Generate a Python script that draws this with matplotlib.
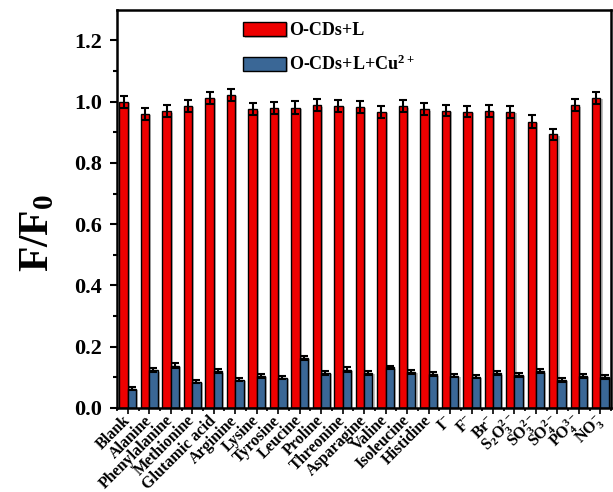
import matplotlib
matplotlib.use("Agg")
import matplotlib.pyplot as plt
import matplotlib.patheffects as pe
import matplotlib.transforms as mtransforms
import numpy as np

# data
labels = ["Blank", "Alanine", "Phenylalanine", "Methionine", "Glutamic acid",
          "Arginine", "Lysine", "Tyrosine", "Leucine", "Proline", "Threonine",
          "Asparagine", "Valine", "Isoleucine", "Histidine",
          r"I$^{-}$", r"F$^{-}$", r"Br$^{-}$", r"S$_2$O$_3^{2-}$",
          r"SO$_3^{2-}$", r"SO$_4^{2-}$", r"PO$_4^{3-}$", r"NO$_3^{-}$"]
red_vals = [1.00, 0.961, 0.969, 0.986, 1.013, 1.022, 0.975, 0.979, 0.981,
            0.988, 0.987, 0.983, 0.967, 0.985, 0.975, 0.971, 0.967, 0.970,
            0.967, 0.935, 0.894, 0.988, 1.013]
red_err = [0.02, 0.02, 0.02, 0.02, 0.02, 0.02, 0.02, 0.02, 0.02, 0.02, 0.02,
           0.02, 0.02, 0.02, 0.02, 0.018, 0.018, 0.02, 0.02, 0.02, 0.018,
           0.02, 0.02]
blue_vals = [0.063, 0.123, 0.138, 0.086, 0.120, 0.092, 0.105, 0.099, 0.163,
             0.114, 0.125, 0.114, 0.132, 0.118, 0.110, 0.105, 0.101, 0.113,
             0.108, 0.120, 0.091, 0.104, 0.101]
blue_err = [0.004, 0.007, 0.007, 0.005, 0.006, 0.005, 0.006, 0.006, 0.008,
            0.006, 0.007, 0.006, 0.006, 0.006, 0.006, 0.005, 0.005, 0.006,
            0.006, 0.006, 0.005, 0.005, 0.006]

plt.rcParams["font.family"] = ["Liberation Serif", "DejaVu Serif"]
plt.rcParams["font.weight"] = "bold"
plt.rcParams["mathtext.fontset"] = "custom"
plt.rcParams["mathtext.rm"] = "Liberation Serif:bold"
plt.rcParams["mathtext.it"] = "Liberation Serif:bold"
plt.rcParams["mathtext.bf"] = "Liberation Serif:bold"

fig = plt.figure(figsize=(6.13, 4.92), dpi=100)
ax = fig.add_axes([0.191, 0.171, 0.806, 0.809])

x = np.arange(len(labels))
w = 0.39
shadow = [pe.SimplePatchShadow(offset=(1.5, -1), shadow_rgbFace="0.5", alpha=0.5), pe.Normal()]
ekw = dict(ecolor="black", elinewidth=1.5, capsize=3, capthick=1.5)

b1 = ax.bar(x - w / 2, red_vals, w, yerr=red_err, color="#ee0000",
            edgecolor="black", linewidth=1, label="O-CDs+L", error_kw=ekw)
b2 = ax.bar(x + w / 2, blue_vals, w, yerr=blue_err, color="#3a6796",
            edgecolor="black", linewidth=1, label=r"O-CDs+L+Cu$^{2+}$", error_kw=ekw)
for p in list(b1) + list(b2):
    p.set_path_effects(shadow)

ax.set_xlim(-0.5, len(labels) - 0.5)
ax.set_ylim(0, 1.3)
ax.set_yticks(np.arange(0, 1.21, 0.2))
ax.set_yticks(np.arange(0.1, 1.3, 0.2), minor=True)
ax.set_xticks(x)
ax.set_xticks(np.arange(-0.5, len(labels), 1.0), minor=True)
ax.set_xticklabels(labels, rotation=45, ha="right", va="center",
                   rotation_mode="anchor", fontsize=11.5, fontweight="bold")
# nudge the rotated labels to the right and up, as in the original
offset = mtransforms.ScaledTranslation(8 / 100, 3 / 100, fig.dpi_scale_trans)
for lab in ax.get_xticklabels():
    lab.set_transform(lab.get_transform() + offset)
ax.tick_params(axis="y", which="major", direction="out", length=5, width=1.5,
               labelsize=16, pad=6)
ax.tick_params(axis="y", which="minor", direction="out", length=3, width=1.5)
ax.tick_params(axis="x", which="major", direction="out", length=4, width=1.2)
ax.tick_params(axis="x", which="minor", direction="out", length=2.5, width=1.2)
for lab in ax.get_yticklabels():
    lab.set_fontweight("bold")
for s in ax.spines.values():
    s.set_linewidth(1.8)

ax.set_ylabel(r"F/F$_{0}$", fontsize=30, fontweight="bold")
ax.yaxis.set_label_coords(-0.122, 0.44)

ax.legend(loc="upper left", bbox_to_anchor=(0.255, 0.97), frameon=False,
          handlelength=2.4, handleheight=0.85,
          borderpad=0, borderaxespad=0, handletextpad=0.15, labelspacing=0.85,
          prop={"weight": "bold", "size": 13})

fig.savefig("out.png", dpi=100)
